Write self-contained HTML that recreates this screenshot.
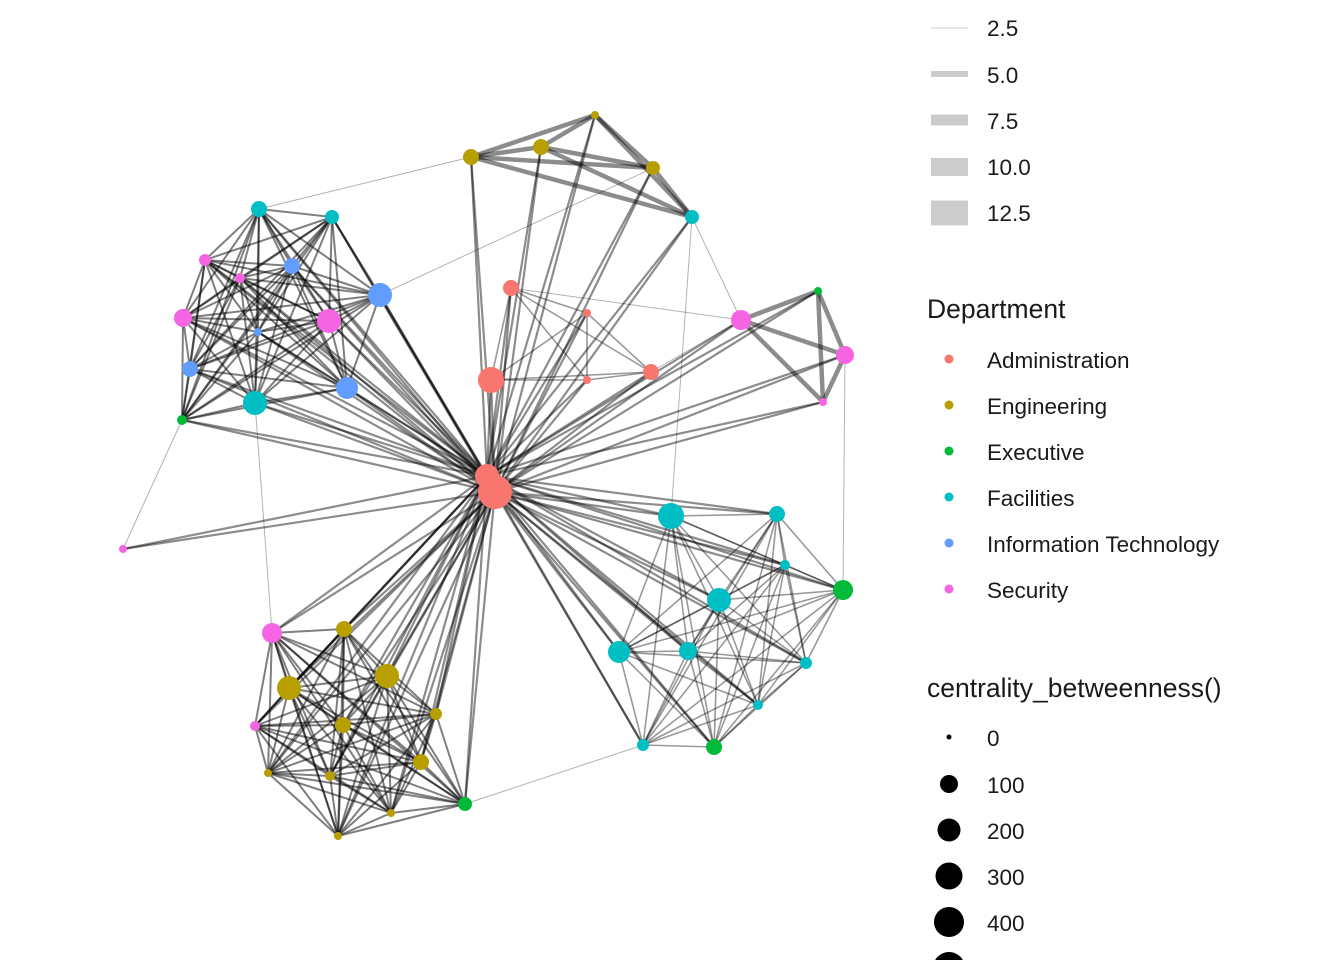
<!DOCTYPE html>
<html><head><meta charset="utf-8"><style>
html,body{margin:0;padding:0;background:#fff;}
svg{display:block;font-family:"Liberation Sans",sans-serif;}
</style></head><body>
<svg id="s" width="1344" height="960" xmlns="http://www.w3.org/2000/svg">
<g id="edges"></g><g id="nodes"></g>
<g font-size="22.5" fill="#1a1a1a">
<line x1="931" y1="28" x2="968" y2="28" stroke="#cccccc" stroke-width="1"/>
<line x1="931" y1="74" x2="968" y2="74" stroke="#cccccc" stroke-width="6"/>
<line x1="931" y1="120" x2="968" y2="120" stroke="#cccccc" stroke-width="11"/>
<line x1="931" y1="167" x2="968" y2="167" stroke="#cccccc" stroke-width="18"/>
<line x1="931" y1="213" x2="968" y2="213" stroke="#cccccc" stroke-width="25"/>
<text x="987" y="36">2.5</text><text x="987" y="83">5.0</text><text x="987" y="129">7.5</text>
<text x="987" y="175">10.0</text><text x="987" y="221">12.5</text>
<text x="927" y="318" font-size="26.5">Department</text>
<circle cx="949" cy="359" r="4.5" fill="#F8766D"/><text x="987" y="368">Administration</text>
<circle cx="949" cy="405" r="4.5" fill="#B79F00"/><text x="987" y="414">Engineering</text>
<circle cx="949" cy="451" r="4.5" fill="#00BA38"/><text x="987" y="460">Executive</text>
<circle cx="949" cy="497" r="4.5" fill="#00BFC4"/><text x="987" y="506">Facilities</text>
<circle cx="949" cy="543" r="4.5" fill="#619CFF"/><text x="987" y="552">Information Technology</text>
<circle cx="949" cy="589" r="4.5" fill="#F564E3"/><text x="987" y="598">Security</text>
<text x="927" y="697" font-size="26.5">centrality_betweenness()</text>
<circle cx="949" cy="737" r="2.5" fill="#000"/><text x="987" y="746">0</text>
<circle cx="949" cy="784" r="9" fill="#000"/><text x="987" y="793">100</text>
<circle cx="949" cy="830" r="11.5" fill="#000"/><text x="987" y="839">200</text>
<circle cx="949" cy="876" r="13.5" fill="#000"/><text x="987" y="885">300</text>
<circle cx="949" cy="922" r="15" fill="#000"/><text x="987" y="931">400</text>
<circle cx="949" cy="968" r="16" fill="#000"/>
</g>
</svg>
<script>
var A="#F8766D",E="#B79F00",X="#00BA38",F="#00BFC4",I="#619CFF",S="#F564E3";
var C={
hub:[[495,492,17,A],[487,476,12,A]],
adm:[[491,380,13,A],[511,288,8,A],[587,313,4,A],[587,380,4,A],[651,372,8,A]],
top:[[471,157,8,E],[541,147,8,E],[595,115,4,E],[653,168,7,E],[692,217,7,F]],
tl:[[259,209,8,F],[332,217,7,F],[205,260,6,S],[240,278,5,S],[292,266,8,I],[380,295,12,I],[183,318,9,S],[258,332,4,I],[329,321,12,S],[190,369,8,I],[347,388,11,I],[255,403,12,F],[182,420,5,X]],
lone:[[123,549,4,S]],
r:[[741,320,10,S],[818,291,4,X],[845,355,9,S],[823,402,4,S]],
br:[[671,516,13,F],[777,514,8,F],[785,565,5,F],[843,590,10,X],[719,600,12,F],[619,652,11,F],[688,651,9,F],[806,663,6,F],[758,705,5,F],[643,745,6,F],[714,747,8,X]],
bl:[[272,633,10,S],[344,629,8,E],[289,688,12,E],[387,676,12,E],[343,725,8,E],[436,714,6,E],[255,726,5,S],[421,762,8,E],[268,773,4,E],[330,776,5,E],[391,813,4,E],[338,836,4,E],[465,804,7,X]]
};
var eg=document.getElementById("edges"),ng=document.getElementById("nodes"),ns="http://www.w3.org/2000/svg";
function L(a,b,w,o){var l=document.createElementNS(ns,"line");l.setAttribute("x1",a[0]);l.setAttribute("y1",a[1]);l.setAttribute("x2",b[0]);l.setAttribute("y2",b[1]);l.setAttribute("stroke","#000");l.setAttribute("stroke-width",w);l.setAttribute("stroke-opacity",o);eg.appendChild(l);}
var all=[];for(var k in C)all=all.concat(C[k]);
for(var k in C){var g=C[k];for(var i=0;i<g.length;i++)for(var j=i+1;j<g.length;j++){
 if(k=="top"||k=="r")L(g[i],g[j],4.5,0.45);
 else if(k=="tl"||k=="bl")L(g[i],g[j],2,0.5);
 else L(g[i],g[j],1.6,0.4);}}
C.hub.forEach(function(h){all.forEach(function(n){if(n!==h)L(h,n,2.2,0.45);});});
var ex=[[C.tl[0],C.top[0]],[C.top[4],C.r[0]],[C.r[2],C.br[3]],[C.tl[12],C.lone[0]],[C.bl[12],C.br[9]],[C.tl[11],C.bl[0]],[C.adm[4],C.r[0]],[C.adm[1],C.r[0]],[C.tl[5],C.top[3]],[C.top[4],C.br[0]]];
ex.forEach(function(e){L(e[0],e[1],1,0.3);});
all.forEach(function(n){var c=document.createElementNS(ns,"circle");c.setAttribute("cx",n[0]);c.setAttribute("cy",n[1]);c.setAttribute("r",n[2]);c.setAttribute("fill",n[3]);ng.appendChild(c);});
</script>
</body></html>
